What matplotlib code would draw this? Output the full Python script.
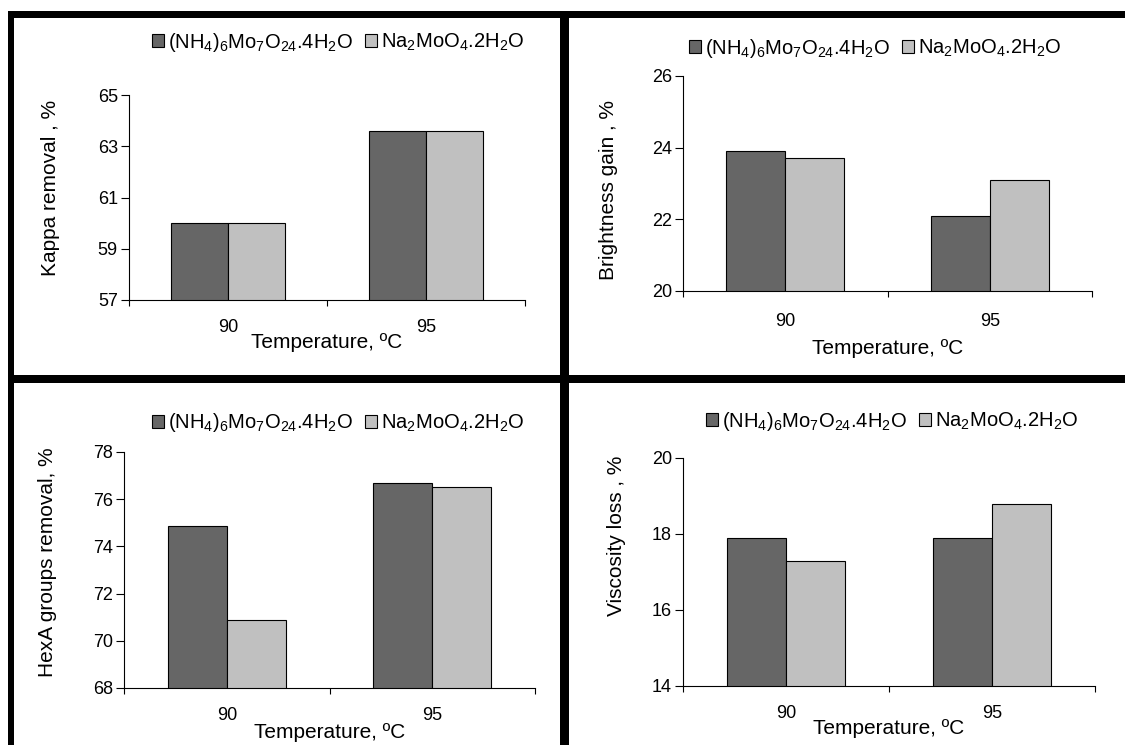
import numpy as np
import matplotlib
matplotlib.use('Agg')
from matplotlib import pyplot as plt
from matplotlib.patches import Rectangle

plt.rcParams['font.family'] = ['Liberation Sans', 'DejaVu Sans']
plt.rcParams['mathtext.fontset'] = 'custom'
plt.rcParams['mathtext.rm'] = 'Liberation Sans'
plt.rcParams['mathtext.it'] = 'Liberation Sans'

# data
temps = ['90', '95']
series_names = [r'(NH$_4$)$_6$Mo$_7$O$_{24}$.4H$_2$O', r'Na$_2$MoO$_4$.2H$_2$O']
kappa_nh4 = [60.0, 63.6]
kappa_na = [60.0, 63.6]
bright_nh4 = [23.9, 22.1]
bright_na = [23.7, 23.1]
hexa_nh4 = [74.85, 76.7]
hexa_na = [70.9, 76.5]
visc_nh4 = [17.9, 17.9]
visc_na = [17.3, 18.8]

W, H = 1125, 745
fig = plt.figure(figsize=(W / 100, H / 100), dpi=100)
fig.patch.set_facecolor('white')

def fx(px):
    return px / W

def fy(py):
    return 1 - py / H

# black frames round the panels
for x0, y0, x1, y1 in [(8, 11, 1125, 18), (8, 11, 14, 745), (560, 11, 569, 745), (8, 375, 1125, 383)]:
    fig.patches.append(Rectangle((fx(x0), fy(y1)), fx(x1) - fx(x0), fy(y0) - fy(y1),
                                 transform=fig.transFigure, facecolor='black', edgecolor='none'))

dark = '#666666'
light = '#c0c0c0'
bw = 0.288

# ylabel, nh4, na, ylim, (left, right, top, bottom), legend (x, y), ylabel (x, y), xlabel y, tick pad
panels = [
    ('Kappa removal , %', kappa_nh4, kappa_na, (57, 65), (129, 525, 95, 300), (152, 42), (51, 188), 343, 14),
    ('Brightness gain , %', bright_nh4, bright_na, (20, 26), (683, 1092, 76, 291), (689, 48), (608, 190), 348, 16),
    ('HexA groups removal, %', hexa_nh4, hexa_na, (68, 78), (124, 535, 452, 688), (152, 423), (48, 562), 732, 14),
    ('Viscosity loss , %', visc_nh4, visc_na, (14, 20), (683, 1095, 458, 686), (706, 421), (616, 536), 729, 14),
]

for ylab, v1, v2, ylim, box, leg, ylpos, xly, pad in panels:
    l, r, t, b = box
    ax = fig.add_axes([fx(l), fy(b), fx(r) - fx(l), fy(t) - fy(b)])
    x = np.arange(len(temps))
    ax.bar(x - bw / 2, v1, bw, color=dark, edgecolor='black', linewidth=0.8,
           label=series_names[0])
    ax.bar(x + bw / 2, v2, bw, color=light, edgecolor='black', linewidth=0.8,
           label=series_names[1])
    ax.set_ylim(*ylim)
    ax.set_xlim(-0.5, 1.5)
    ax.set_yticks(np.arange(ylim[0], ylim[1] + 0.1, 2))
    ax.set_xticks(x)
    ax.set_xticklabels(temps)
    ax.set_xticks([-0.5, 0.5, 1.5], minor=True)
    ax.tick_params(axis='x', which='major', length=0, pad=pad, labelsize=13)
    ax.tick_params(axis='x', which='minor', length=4, width=0.8, direction='out')
    ax.tick_params(axis='y', length=6, width=0.8, direction='out', pad=2, labelsize=13)
    for s in ['top', 'right']:
        ax.spines[s].set_visible(False)
    for s in ['left', 'bottom']:
        ax.spines[s].set_linewidth(0.8)
    ax.set_facecolor('none')
    ax.set_ylabel(ylab, fontsize=15)
    ax.yaxis.set_label_coords((ylpos[0] - l) / (r - l), (b - ylpos[1]) / (b - t))
    ax.yaxis.label.set_va('center')
    ax.set_xlabel('Temperature, ºC', fontsize=15)
    ax.xaxis.set_label_coords(0.5, (b - xly) / (b - t))
    ax.xaxis.label.set_va('center')
    ax.legend(loc='center left', bbox_to_anchor=(fx(leg[0]), fy(leg[1])),
              bbox_transform=fig.transFigure, ncol=2, frameon=False, fontsize=14.5,
              handlelength=0.6, handleheight=0.6, handletextpad=0.2,
              columnspacing=0.6, borderpad=0, borderaxespad=0)

fig.savefig('out.png', dpi=100)
